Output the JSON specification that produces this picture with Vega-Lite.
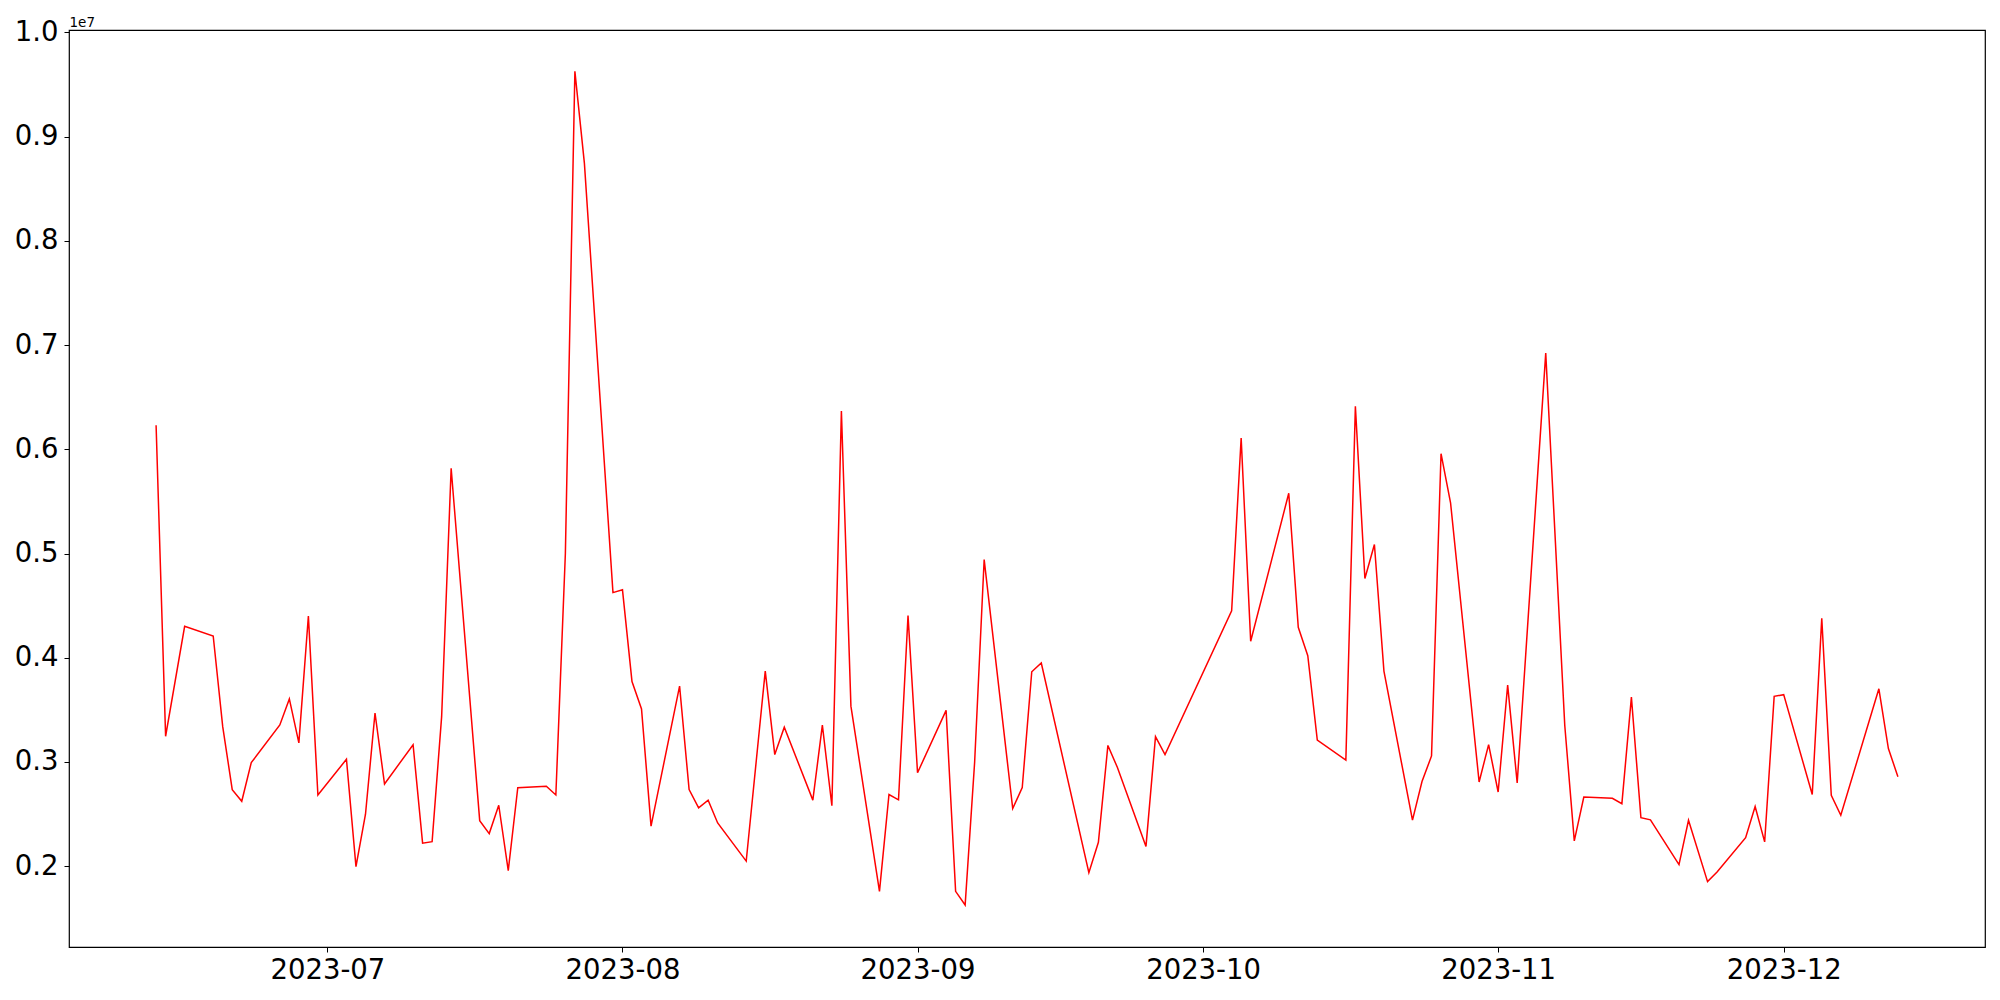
{
  "$schema": "https://vega.github.io/schema/vega-lite/v6.json",
  "width": 1916,
  "height": 917,
  "autosize": "none",
  "padding": {"left": 69, "top": 30, "right": 15, "bottom": 53},
  "background": "white",
  "config": {
    "font": "DejaVu Sans",
    "view": {"stroke": "black", "strokeWidth": 1.2},
    "axis": {"grid": false, "domain": false, "tickColor": "black", "tickSize": 5, "tickWidth": 1, "labelColor": "black", "labelFont": "DejaVu Sans", "labelFontSize": 27.5}
  },
  "data": {
    "values": [
      {"date": "2023-06-13", "value": 6230000},
      {"date": "2023-06-14", "value": 3247000},
      {"date": "2023-06-16", "value": 4302000},
      {"date": "2023-06-19", "value": 4209000},
      {"date": "2023-06-20", "value": 3339000},
      {"date": "2023-06-21", "value": 2735000},
      {"date": "2023-06-22", "value": 2623000},
      {"date": "2023-06-23", "value": 2994000},
      {"date": "2023-06-26", "value": 3355000},
      {"date": "2023-06-27", "value": 3605000},
      {"date": "2023-06-28", "value": 3183000},
      {"date": "2023-06-29", "value": 4401000},
      {"date": "2023-06-30", "value": 2684000},
      {"date": "2023-07-03", "value": 3026000},
      {"date": "2023-07-04", "value": 1996000},
      {"date": "2023-07-05", "value": 2499000},
      {"date": "2023-07-06", "value": 3470000},
      {"date": "2023-07-07", "value": 2789000},
      {"date": "2023-07-10", "value": 3166000},
      {"date": "2023-07-11", "value": 2221000},
      {"date": "2023-07-12", "value": 2236000},
      {"date": "2023-07-13", "value": 3435000},
      {"date": "2023-07-14", "value": 5818000},
      {"date": "2023-07-17", "value": 2437000},
      {"date": "2023-07-18", "value": 2313000},
      {"date": "2023-07-19", "value": 2585000},
      {"date": "2023-07-20", "value": 1958000},
      {"date": "2023-07-21", "value": 2754000},
      {"date": "2023-07-24", "value": 2767000},
      {"date": "2023-07-25", "value": 2684000},
      {"date": "2023-07-26", "value": 5000000},
      {"date": "2023-07-27", "value": 9626000},
      {"date": "2023-07-28", "value": 8743000},
      {"date": "2023-07-31", "value": 4625000},
      {"date": "2023-08-01", "value": 4652000},
      {"date": "2023-08-02", "value": 3772000},
      {"date": "2023-08-03", "value": 3509000},
      {"date": "2023-08-04", "value": 2385000},
      {"date": "2023-08-07", "value": 3728000},
      {"date": "2023-08-08", "value": 2735000},
      {"date": "2023-08-09", "value": 2560000},
      {"date": "2023-08-10", "value": 2634000},
      {"date": "2023-08-11", "value": 2415000},
      {"date": "2023-08-14", "value": 2049000},
      {"date": "2023-08-16", "value": 3872000},
      {"date": "2023-08-17", "value": 3071000},
      {"date": "2023-08-18", "value": 3334000},
      {"date": "2023-08-21", "value": 2634000},
      {"date": "2023-08-22", "value": 3354000},
      {"date": "2023-08-23", "value": 2580000},
      {"date": "2023-08-24", "value": 6368000},
      {"date": "2023-08-25", "value": 3536000},
      {"date": "2023-08-28", "value": 1759000},
      {"date": "2023-08-29", "value": 2688000},
      {"date": "2023-08-30", "value": 2637000},
      {"date": "2023-08-31", "value": 4404000},
      {"date": "2023-09-01", "value": 2897000},
      {"date": "2023-09-04", "value": 3495000},
      {"date": "2023-09-05", "value": 1759000},
      {"date": "2023-09-06", "value": 1628000},
      {"date": "2023-09-07", "value": 3000000},
      {"date": "2023-09-08", "value": 4942000},
      {"date": "2023-09-11", "value": 2553000},
      {"date": "2023-09-12", "value": 2755000},
      {"date": "2023-09-13", "value": 3866000},
      {"date": "2023-09-14", "value": 3950000},
      {"date": "2023-09-19", "value": 1938000},
      {"date": "2023-09-20", "value": 2230000},
      {"date": "2023-09-21", "value": 3159000},
      {"date": "2023-09-22", "value": 2947000},
      {"date": "2023-09-25", "value": 2190000},
      {"date": "2023-09-26", "value": 3243000},
      {"date": "2023-09-27", "value": 3071000},
      {"date": "2023-10-04", "value": 4451000},
      {"date": "2023-10-05", "value": 6109000},
      {"date": "2023-10-06", "value": 4158000},
      {"date": "2023-10-10", "value": 5578000},
      {"date": "2023-10-11", "value": 4293000},
      {"date": "2023-10-12", "value": 4020000},
      {"date": "2023-10-13", "value": 3210000},
      {"date": "2023-10-16", "value": 3018000},
      {"date": "2023-10-17", "value": 6412000},
      {"date": "2023-10-18", "value": 4761000},
      {"date": "2023-10-19", "value": 5087000},
      {"date": "2023-10-20", "value": 3872000},
      {"date": "2023-10-23", "value": 2442000},
      {"date": "2023-10-24", "value": 2812000},
      {"date": "2023-10-25", "value": 3058000},
      {"date": "2023-10-26", "value": 5958000},
      {"date": "2023-10-27", "value": 5487000},
      {"date": "2023-10-30", "value": 2808000},
      {"date": "2023-10-31", "value": 3167000},
      {"date": "2023-11-01", "value": 2712000},
      {"date": "2023-11-02", "value": 3737000},
      {"date": "2023-11-03", "value": 2799000},
      {"date": "2023-11-06", "value": 6923000},
      {"date": "2023-11-08", "value": 3350000},
      {"date": "2023-11-09", "value": 2243000},
      {"date": "2023-11-10", "value": 2664000},
      {"date": "2023-11-13", "value": 2652000},
      {"date": "2023-11-14", "value": 2600000},
      {"date": "2023-11-15", "value": 3622000},
      {"date": "2023-11-16", "value": 2465000},
      {"date": "2023-11-17", "value": 2445000},
      {"date": "2023-11-20", "value": 2015000},
      {"date": "2023-11-21", "value": 2441000},
      {"date": "2023-11-23", "value": 1852000},
      {"date": "2023-11-24", "value": 1944000},
      {"date": "2023-11-27", "value": 2274000},
      {"date": "2023-11-28", "value": 2573000},
      {"date": "2023-11-29", "value": 2234000},
      {"date": "2023-11-30", "value": 3630000},
      {"date": "2023-12-01", "value": 3646000},
      {"date": "2023-12-04", "value": 2688000},
      {"date": "2023-12-05", "value": 4378000},
      {"date": "2023-12-06", "value": 2680000},
      {"date": "2023-12-07", "value": 2489000},
      {"date": "2023-12-11", "value": 3702000},
      {"date": "2023-12-12", "value": 3129000},
      {"date": "2023-12-13", "value": 2859000}
    ]
  },
  "mark": {"type": "line", "color": "#ff0000", "strokeWidth": 1.5, "clip": true},
  "encoding": {
    "x": {
      "field": "date",
      "type": "temporal",
      "scale": {
        "type": "utc",
        "domain": [
          {"year": 2023, "month": 6, "date": 3, "hours": 20, "minutes": 24, "utc": true},
          {"year": 2023, "month": 12, "date": 22, "hours": 3, "minutes": 36, "utc": true}
        ],
        "nice": false
      },
      "axis": {
        "title": null,
        "format": "%Y-%m",
        "labelPadding": 4,
        "labelFlush": false,
        "labelOverlap": false,
        "values": [
          {"year": 2023, "month": 7, "date": 1, "utc": true},
          {"year": 2023, "month": 8, "date": 1, "utc": true},
          {"year": 2023, "month": 9, "date": 1, "utc": true},
          {"year": 2023, "month": 10, "date": 1, "utc": true},
          {"year": 2023, "month": 11, "date": 1, "utc": true},
          {"year": 2023, "month": 12, "date": 1, "utc": true}
        ]
      }
    },
    "y": {
      "field": "value",
      "type": "quantitative",
      "scale": {"domain": [1225000, 10023000], "nice": false, "zero": false},
      "axis": {
        "title": "1e7",
        "titleAngle": 0,
        "titleX": 0,
        "titleY": -4,
        "titleAlign": "left",
        "titleBaseline": "alphabetic",
        "titleFontSize": 13.5,
        "titleFontWeight": "normal",
        "titleColor": "black",
        "titleFont": "DejaVu Sans",
        "values": [2000000, 3000000, 4000000, 5000000, 6000000, 7000000, 8000000, 9000000, 10000000],
        "labelExpr": "format(datum.value / 10000000, '.1f')",
        "labelPadding": 6,
        "labelFlush": false,
        "labelOverlap": false
      }
    }
  }
}
